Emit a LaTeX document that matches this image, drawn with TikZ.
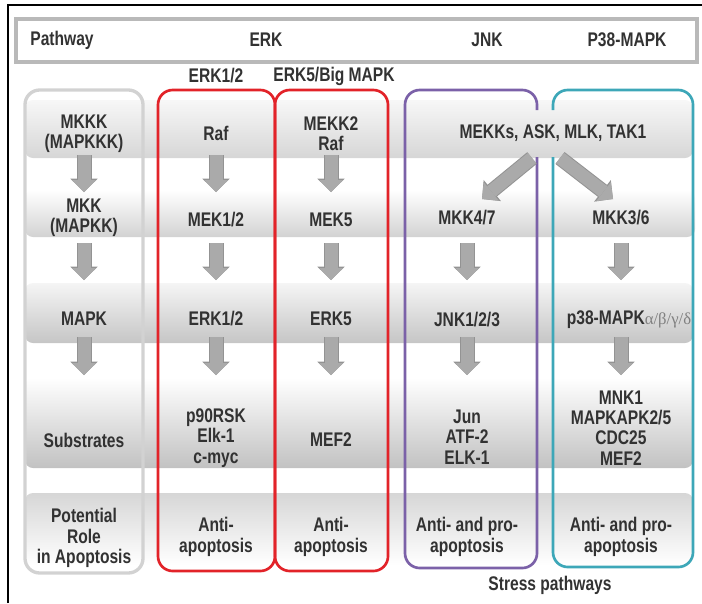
\documentclass[tikz,border=0pt]{standalone}
\usepackage{fontspec}
\setmainfont{Liberation Sans}[FakeStretch=0.79]
\newfontfamily\greekfont{Liberation Serif}
\definecolor{mapred}{RGB}{226, 35, 41}
\definecolor{mappurple}{RGB}{123, 97, 168}
\definecolor{mapteal}{RGB}{61, 167, 184}
\definecolor{maptext}{RGB}{50, 50, 50}
\definecolor{maparrow}{RGB}{170, 170, 170}
\usetikzlibrary{arrows.meta}

\tikzset{
  lbl/.style={font=\bfseries\fontsize{14.8}{15.2}\selectfont, text=maptext, align=center, inner sep=1pt},
  band/.style={rounded corners=6pt},
  colbox/.style={line width=2pt, rounded corners=11pt},
  blk/.style={draw=maparrow, line width=9.75pt, -{Triangle[width=18pt,length=9pt,line width=0pt]},
    preaction={draw=gray!85, line width=11.25pt, -{Triangle[width=20.5pt,length=10pt,line width=0pt]}}},
}

\begin{document}
\begin{tikzpicture}[x=0.75pt, y=-0.75pt]
\useasboundingbox (0,0) rectangle (702,603);
\draw[line width=1.5pt] (8,603) -- (8,5) -- (702,5);

% header
\draw[line width=2.5pt, draw=gray!55, fill=white] (16,19) rectangle (697,62);
\node[lbl] (hpath) at (62,40) {Pathway};
\node[lbl] (herk) at (266,40) {ERK};
\node[lbl] (hjnk) at (487,40) {JNK};
\node[lbl] (hp38) at (627,40) {P38-MAPK};
\node[lbl] (erk12) at (216,76) {ERK1/2};
\node[lbl] (erk5big) at (334,76) {ERK5/Big MAPK};

% shaded rows
\shade[band, top color=gray!6, bottom color=gray!32] (25,100) rectangle (693,158);
\shade[band, top color=white, bottom color=gray!35] (25,190) rectangle (695,237);
\shade[band, top color=gray!8, bottom color=gray!45] (25,283) rectangle (693,343);
\shade[band, top color=white, bottom color=gray!48] (25,378) rectangle (693,468);
\shade[band, top color=gray!32, bottom color=white] (25,493) rectangle (693,565);

% pathway boxes
\draw[colbox, gray!35, line width=2.5pt] (25,90) rectangle (143,573);
\draw[colbox, mapred] (158,90) rectangle (275,571);
\draw[colbox, mapred] (275,90) rectangle (388,571);
\draw[colbox, mappurple] (537,157) -- (537,568) -- (405,568) -- (405,90) -- (537,90) -- (537,110);
\draw[colbox, mapteal] (553,110) -- (553,90) -- (693,90) -- (693,567) -- (553,567) -- (553,157);

% MAPKKK
\node[lbl] (mkkk) at (84,134) {MKKK\\(MAPKKK)};
\node[lbl] (raf) at (216,133) {Raf};
\node[lbl] (mekk2) at (331,134) {MEKK2\\Raf};
\node[lbl] (mekks) at (553,133) {MEKKs, ASK, MLK, TAK1};
% MAPKK
\node[lbl] (mkk) at (84,218) {MKK\\(MAPKK)};
\node[lbl] (mek12) at (216,220) {MEK1/2};
\node[lbl] (mek5) at (331,220) {MEK5};
\node[lbl] (mkk47) at (467,218) {MKK4/7};
\node[lbl] (mkk36) at (621,218) {MKK3/6};
% MAPK
\node[lbl] (mapk) at (84,319) {MAPK};
\node[lbl] (erk12b) at (216,319) {ERK1/2};
\node[lbl] (erk5) at (331,319) {ERK5};
\node[lbl] (jnk) at (467,320) {JNK1/2/3};
\node[lbl] (p38) at (629,320) {p38-MAPK{\greekfont\mdseries\fontsize{12.5}{14}\selectfont\color{gray}α/β/γ/δ}};
% substrates
\node[lbl] (subs) at (84,440) {Substrates};
\node[lbl] (p90) at (216,438) {p90RSK\\Elk-1\\c-myc};
\node[lbl] (mef2) at (331,440) {MEF2};
\node[lbl] (jun) at (467,437) {Jun\\ATF-2\\ELK-1};
\node[lbl] (mnk) at (621,428) {MNK1\\MAPKAPK2/5\\CDC25\\MEF2};
% role in apoptosis
\node[lbl] (role) at (84,538) {Potential\\Role\\in Apoptosis};
\node[lbl] (anti1) at (216,537) {Anti-\\apoptosis};
\node[lbl] (anti2) at (331,537) {Anti-\\apoptosis};
\node[lbl] (antipro1) at (467,537) {Anti- and pro-\\apoptosis};
\node[lbl] (antipro2) at (621,537) {Anti- and pro-\\apoptosis};
\node[lbl] (stress) at (550,585) {Stress pathways};

% arrows
\coordinate (r1a) at (0,155); \coordinate (r1b) at (0,192);
\coordinate (r2a) at (0,243); \coordinate (r2b) at (0,280);
\coordinate (r3a) at (0,337); \coordinate (r3b) at (0,375);
\foreach \n in {mkk,mek12,mek5}
  \draw[blk] (\n |- r1a) -- (\n |- r1b);
\foreach \n in {mkk,mek12,mek5,mkk47,mkk36} {
  \draw[blk] (\n |- r2a) -- (\n |- r2b);
  \draw[blk] (\n |- r3a) -- (\n |- r3b);
}
\coordinate (dj1) at (532,158); \coordinate (dj2) at (482,199);
\coordinate (dp1) at (560,158); \coordinate (dp2) at (613,199);
\draw[blk] (dj1) -- (dj2);
\draw[blk] (dp1) -- (dp2);
\end{tikzpicture}
\end{document}
